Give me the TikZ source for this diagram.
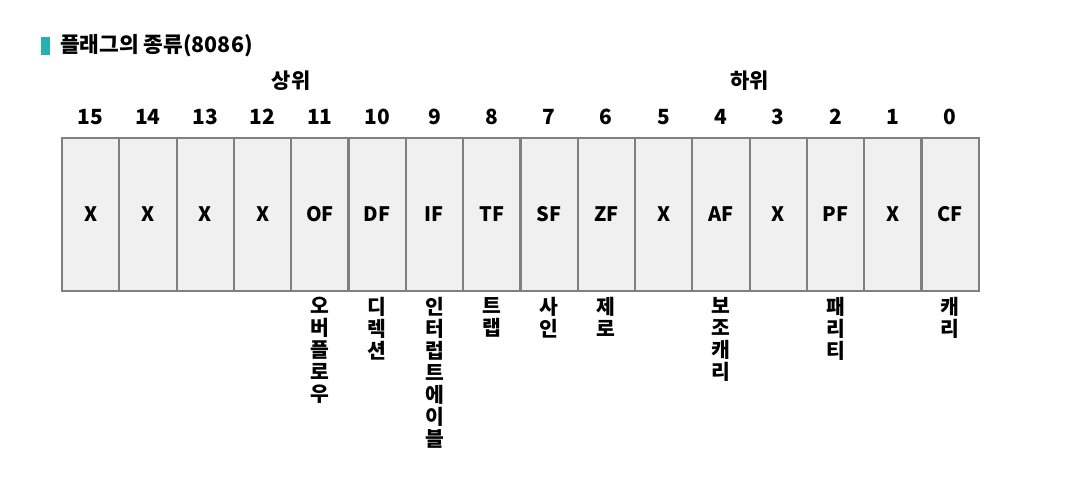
\documentclass[tikz,border=0pt]{standalone}
\usepackage{fontspec}
\setmainfont{Noto Sans CJK KR}
\usetikzlibrary{positioning}

\definecolor{barteal}{HTML}{26B0AE}
\definecolor{cellfill}{HTML}{F0F0F0}
\definecolor{cellline}{HTML}{7F7F7F}

\tikzset{
  cell/.style={draw=cellline,fill=cellfill,line width=2.2pt,minimum width=57.3bp,
    minimum height=153bp,inner sep=0pt,font=\fontsize{20}{20}\selectfont\bfseries},
  bitnum/.style={inner sep=0pt,anchor=base,font=\fontsize{21}{21}\selectfont\bfseries},
  vlabel/.style={align=center,inner sep=0pt,font=\fontsize{20.5}{22}\selectfont\bfseries},
}

\begin{document}
\begin{tikzpicture}[x=1bp,y=-1bp]
  \useasboundingbox (0,0) rectangle (1066,492);

  % title
  \fill[barteal] (41,37) rectangle (50,55);
  \node[anchor=west,inner sep=0pt,font=\fontsize{21.5}{21.5}\selectfont\bfseries] (title) at (60,46) {플래그의 종류(8086)};

  % flag register, bit 15 on the left
  \foreach \name [count=\k from 0] in {X,X,X,X,OF,DF,IF,TF,SF,ZF,X,AF,X,PF,X,CF} {
    \pgfmathtruncatemacro{\bit}{15-\k}
    \node[cell] (b\bit) at ({62+57.3*(\k+0.5)},214.5) {\name};
    \node[bitnum] (n\bit) at ({62+57.3*(\k+0.5)},124.5) {\bit};
  }

  \node[bitnum] (upper) at (291,88.5) {상위};
  \node[bitnum] (lower) at (749.5,88.5) {하위};

  % names below the cells
  \node[vlabel,below=5bp of b11] (l11) {오\\버\\플\\로\\우};
  \node[vlabel,below=5bp of b10] (l10) {디\\렉\\션};
  \node[vlabel,below=5bp of b9] (l9) {인\\터\\럽\\트\\에\\이\\블};
  \node[vlabel,below=5bp of b8] (l8) {트\\랩};
  \node[vlabel,below=5bp of b7] (l7) {사\\인};
  \node[vlabel,below=5bp of b6] (l6) {제\\로};
  \node[vlabel,below=5bp of b4] (l4) {보\\조\\캐\\리};
  \node[vlabel,below=5bp of b2] (l2) {패\\리\\티};
  \node[vlabel,below=5bp of b0] (l0) {캐\\리};
\end{tikzpicture}
\end{document}
